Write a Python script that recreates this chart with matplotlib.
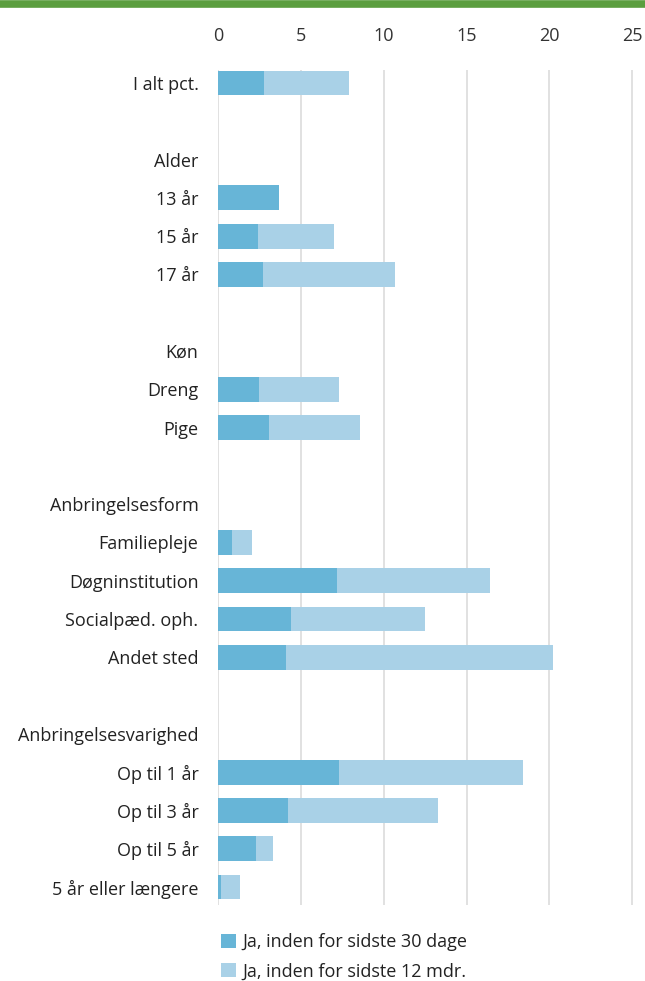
import matplotlib
matplotlib.use("Agg")
import matplotlib.pyplot as plt
from matplotlib.patches import Patch
from matplotlib.lines import Line2D

categories = ["I alt pct.", "", "Alder", "13 år", "15 år", "17 år", "",
              "Køn", "Dreng", "Pige", "", "Anbringelsesform", "Familiepleje",
              "Døgninstitution", "Socialpæd. oph.", "Andet sted", "",
              "Anbringelsesvarighed", "Op til 1 år", "Op til 3 år", "Op til 5 år",
              "5 år eller længere"]
# None = no bar (header / blank rows)
last30 = [2.8, None, None, 3.7, 2.4, 2.7, None, None, 2.5, 3.1, None, None,
          0.85, 7.2, 4.4, 4.1, None, None, 7.3, 4.2, 2.3, 0.2]
last12 = [5.1, None, None, 0.0, 4.6, 8.0, None, None, 4.8, 5.5, None, None,
          1.2, 9.2, 8.1, 16.1, None, None, 11.1, 9.1, 1.05, 1.1]
series_names = ["Ja, inden for sidste 30 dage", "Ja, inden for sidste 12 mdr."]
xticks = [0, 5, 10, 15, 20, 25]

c_dark = "#67B5D7"
c_light = "#A9D1E7"

plt.rcParams['font.family'] = ['Open Sans', 'DejaVu Sans']

fig = plt.figure(figsize=(6.45, 9.81), dpi=100)
ax = fig.add_axes([218/645, 1 - 905/981, (633-218)/645, (905-70)/981])

ys, d, l = [], [], []
for i, (a, b) in enumerate(zip(last30, last12)):
    if a is None:
        continue
    ys.append(i); d.append(a); l.append(b)

ax.barh(ys, d, height=0.65, color=c_dark, edgecolor="none", zorder=2)
ax.barh(ys, l, left=d, height=0.65, color=c_light, edgecolor="none", zorder=2)

ax.set_xlim(0, 25.05)
ax.set_ylim(21.47, -0.34)
ax.set_xticks(xticks)
ax.xaxis.tick_top()
ax.tick_params(axis='x', length=0, pad=18, labelsize=13, colors="#333333")
ax.set_yticks(range(len(categories)))
ax.set_yticklabels(categories)
ax.tick_params(axis='y', length=0, pad=14, labelsize=13, colors="#222222")
for s in ax.spines.values():
    s.set_visible(False)
ax.grid(axis='x', color="#D9D9D9", linewidth=1.1, zorder=0)
ax.set_axisbelow(True)

# green top line
fig.add_artist(Line2D([0, 1], [1 - 3.5/981, 1 - 3.5/981], color="#5B9E3F",
                      linewidth=5.5, transform=fig.transFigure))

handles = [Patch(facecolor=c_dark, edgecolor="none"),
           Patch(facecolor=c_light, edgecolor="none")]
fig.legend(handles, series_names, loc="upper left",
           bbox_to_anchor=(205/645, 1 - 917/981), frameon=False,
           fontsize=13, handlelength=0.8, handleheight=0.8,
           handletextpad=0.35, labelspacing=0.62, labelcolor="#222222")

fig.savefig("out.png", dpi=100)
